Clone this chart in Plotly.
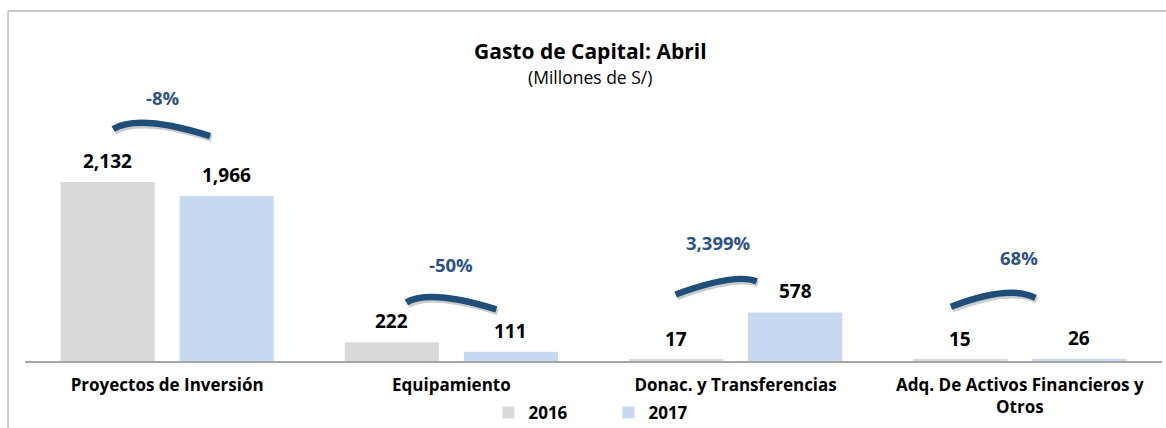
import plotly.graph_objects as go

# ---- data ----
categories = ["Proyectos de Inversión", "Equipamiento", "Donac. y Transferencias",
              "Adq. De Activos Financieros y<br>Otros"]
values_2016 = [2132, 222, 17, 15]
values_2017 = [1966, 111, 578, 26]
pct_labels = ["-8%", "-50%", "3,399%", "68%"]
series_names = ["2016", "2017"]

# ---- styles ----
col_2016 = "#D9D9D9"
col_2017 = "#C6D9F0"
arc_col = "#1F4E79"
pct_col = "#2B5286"
FONT = "Open Sans"
# arc geometry (pixel offsets from category centre / top of tallest bar): start, control, end
arc_geom = [((-54, 53), (-28.5, 68.5), (43, 46)),
            ((-45, 40), (-22, 53.5), (45, 33)),
            ((-60, 18), (0, 40), (21, 31)),
            ((-69, 52), (-11, 74.5), (15.5, 61))]
pct_offsets = [(-4, 85), (0, 78), (-17, 70), (-1, 101)]

fig = go.Figure()
fig.add_trace(go.Bar(x=categories, y=values_2016, name=f"<b>{series_names[0]}</b>",
                     marker=dict(color=col_2016, line=dict(width=0))))
fig.add_trace(go.Bar(x=categories, y=values_2017, name=f"<b>{series_names[1]}</b>",
                     marker=dict(color=col_2017, line=dict(width=0))))

annotations = []
shapes = []
half = 59.5
for i, cat in enumerate(categories):
    for v, dx in ((values_2016[i], -half), (values_2017[i], half)):
        annotations.append(dict(x=cat, y=v, xref="x", yref="y", text=f"<b>{v:,}</b>",
                                showarrow=False, xshift=dx, yshift=6, yanchor="bottom",
                                font=dict(family=FONT, size=19, color="#000000")))
    top = max(values_2016[i], values_2017[i])
    ox, oy = pct_offsets[i]
    annotations.append(dict(x=cat, y=top, xref="x", yref="y", text=f"<b>{pct_labels[i]}</b>",
                            showarrow=False, xshift=ox, yshift=oy, yanchor="middle",
                            font=dict(family=FONT, size=18.5, color=pct_col)))
    (sx, sy), (cx, cy), (ex, ey) = arc_geom[i]
    for shift, colr in (((1.5, -2.5), "rgba(0,0,0,0.2)"), ((0, 0), arc_col)):
        p = (f"M{sx+shift[0]},{sy+shift[1]} Q{cx+shift[0]},{cy+shift[1]} "
             f"{ex+shift[0]},{ey+shift[1]}")
        shapes.append(dict(type="path", xref="x", yref="y", xsizemode="pixel",
                           ysizemode="pixel", xanchor=cat, yanchor=top, path=p,
                           line=dict(color=colr, width=6.5)))

# title & subtitle
annotations.append(dict(x=0.497, y=1.188, xref="paper", yref="paper",
                        text="<b>Gasto de Capital: Abril</b>", showarrow=False,
                        font=dict(family=FONT, size=21, color="#000000"), yanchor="middle"))
annotations.append(dict(x=0.497, y=1.088, xref="paper", yref="paper",
                        text="(Millones de S/)", showarrow=False,
                        font=dict(family=FONT, size=17.5, color="#000000"), yanchor="middle"))

# outer frame (left and top edges)
shapes.append(dict(type="line", xref="paper", yref="paper", x0=-0.0149, x1=-0.0149,
                   y0=-0.3, y1=1.341, line=dict(color="#BFBFBF", width=1.5)))
shapes.append(dict(type="line", xref="paper", yref="paper", x0=-0.0149, x1=1.01,
                   y0=1.341, y1=1.341, line=dict(color="#C8C8C8", width=2)))

fig.update_layout(
    width=1166, height=428,
    margin=dict(l=25, r=4, t=100, b=67, autoexpand=False),
    paper_bgcolor="white", plot_bgcolor="white",
    barmode="group", bargap=0.162, bargroupgap=0.21,
    showlegend=True,
    legend=dict(orientation="h", x=0.4076, xanchor="left", y=-0.199, yanchor="middle",
                font=dict(family=FONT, size=17, color="#000000"), itemwidth=30,
                entrywidth=75, entrywidthmode="pixels", traceorder="normal"),
    annotations=annotations, shapes=shapes,
    font=dict(family=FONT),
)
fig.update_xaxes(showline=True, linecolor="#A6A6A6", linewidth=1.5, showgrid=False,
                 ticks="outside", ticklen=8, tickcolor="rgba(0,0,0,0)",
                 tickfont=dict(family=FONT, size=17, color="#000000"),
                 tickprefix="<b>", ticksuffix="</b>")
fig.update_yaxes(range=[0, 3110], visible=False, showgrid=False)

fig.write_html("out.html", config={"displayModeBar": False},
               post_script="document.body.style.margin='0';")
